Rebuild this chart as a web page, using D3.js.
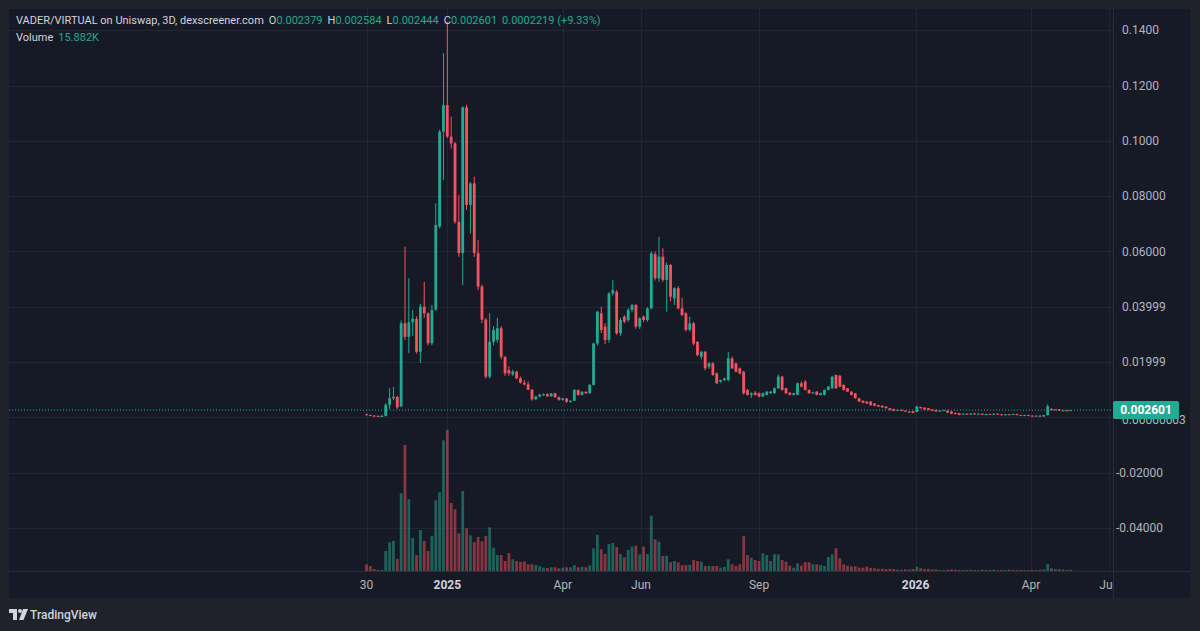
<!DOCTYPE html>
<html>
<head>
<meta charset="utf-8">
<script src="https://cdn.jsdelivr.net/npm/d3@7"></script>
<style>
  html, body { margin: 0; padding: 0; background: #1f222b; }
  svg { display: block; font-family: Roboto, "Liberation Sans", sans-serif; }
</style>
</head>
<body>
<div id="chart"></div>
<script>
const width = 1200;
const height = 631;

// 3D candles, first bar on 30 Oct 2024
const startDate = Date.UTC(2024, 9, 30);
const stepDays = 3;

const open = [
  .0011,.0008,.0006,.0005,.0004,.0005,.0045,.0069,.0074,.0040,
  .0340,.0291,.0344,.0356,.0237,.0400,.0376,.0268,.0390,.0690,
  .1033,.1129,.1015,.0991,.0707,.0594,.1121,.0768,.0846,.0594,
  .0473,.0353,.0147,.0273,.0280,.0322,.0219,.0171,.0155,.0165,
  .0141,.0125,.0119,.0100,.0065,.0075,.0080,.0084,.0076,.0087,
  .0073,.0063,.0068,.0056,.0060,.0099,.0081,.0092,.0087,.0117,
  .0267,.0376,.0328,.0280,.0448,.0454,.0304,.0364,.0352,.0388,
  .0406,.0328,.0364,.0352,.0394,.0590,.0503,.0581,.0497,.0551,
  .0430,.0467,.0394,.0376,.0316,.0340,.0273,.0219,.0237,.0183,
  .0195,.0159,.0129,.0135,.0135,.0213,.0195,.0177,.0165,.0099,
  .0081,.0089,.0087,.0075,.0081,.0087,.0087,.0105,.0147,.0105,
  .0089,.0081,.0081,.0123,.0129,.0099,.0087,.0093,.0081,.0081,
  .0099,.0105,.0153,.0150,.0117,.0105,.0093,.0087,.0069,.0060,
  .0057,.0057,.0050,.0044,.0042,.0039,.0033,.0030,.0024,.0027,
  .0024,.0021,.0022,.0019,.0037,.0035,.0033,.0028,.0027,.0021,
  .0024,.0024,.0021,.0016,.0015,.0010,.0013,.0010,.0014,.0011,
  .0013,.0009,.0012,.0010,.0013,.0011,.0008,.0011,.0009,.0012,
  .0008,.0006,.0008,.0006,.0004,.0006,.0003,.0008,.0030,.0026,
  .0029,.0024,.0025,.002379
];
const high = [
  .0013,.0010,.0008,.0007,.0009,.0051,.0105,.0110,.0078,.0350,
  .0617,.0503,.0388,.0365,.0410,.0490,.0380,.0406,.0774,.1040,
  .1317,.1430,.1087,.0995,.0804,.1125,.1130,.0850,.0870,.0642,
  .0480,.0360,.0377,.0330,.0360,.0330,.0220,.0185,.0172,.0168,
  .0147,.0135,.0130,.0102,.0078,.0085,.0086,.0086,.0088,.0089,
  .0075,.0070,.0070,.0062,.0102,.0100,.0095,.0094,.0120,.0270,
  .0385,.0400,.0340,.0452,.0497,.0460,.0360,.0370,.0395,.0410,
  .0410,.0362,.0368,.0398,.0600,.0600,.0653,.0611,.0560,.0555,
  .0470,.0475,.0432,.0380,.0364,.0345,.0275,.0240,.0240,.0200,
  .0200,.0162,.0136,.0143,.0237,.0220,.0198,.0180,.0168,.0102,
  .0090,.0095,.0090,.0090,.0095,.0095,.0108,.0155,.0150,.0107,
  .0091,.0089,.0125,.0130,.0135,.0101,.0092,.0095,.0089,.0101,
  .0113,.0150,.0155,.0153,.0119,.0106,.0094,.0088,.0070,.0061,
  .0058,.0058,.0051,.0045,.0043,.0040,.0034,.0031,.0028,.0028,
  .0025,.0022,.0023,.0042,.0038,.0036,.0034,.0029,.0028,.0025,
  .0027,.0025,.0022,.0017,.0016,.0014,.0014,.0015,.0015,.0014,
  .0014,.0013,.0013,.0014,.0014,.0012,.0012,.0012,.0013,.0013,
  .0009,.0009,.0009,.0007,.0007,.0007,.0009,.0047,.0033,.0030,
  .0030,.0027,.0026,.002620
];
const low = [
  .0007,.0005,.0004,.0003,.0003,.0003,.0030,.0062,.0030,.0036,
  .0280,.0232,.0295,.0230,.0196,.0360,.0260,.0260,.0385,.0684,
  .0858,.1010,.0972,.0700,.0580,.0478,.0750,.0665,.0580,.0460,
  .0340,.0140,.0140,.0260,.0270,.0210,.0150,.0150,.0150,.0138,
  .0122,.0115,.0098,.0060,.0062,.0072,.0078,.0074,.0074,.0070,
  .0060,.0060,.0052,.0053,.0058,.0078,.0079,.0084,.0085,.0115,
  .0260,.0305,.0265,.0270,.0440,.0298,.0295,.0340,.0345,.0380,
  .0320,.0320,.0345,.0345,.0390,.0495,.0490,.0490,.0382,.0420,
  .0406,.0390,.0365,.0310,.0310,.0260,.0220,.0210,.0170,.0175,
  .0150,.0120,.0125,.0130,.0130,.0175,.0162,.0155,.0082,.0078,
  .0070,.0078,.0072,.0073,.0079,.0085,.0085,.0103,.0096,.0084,
  .0079,.0079,.0080,.0108,.0097,.0085,.0085,.0079,.0079,.0079,
  .0097,.0103,.0103,.0108,.0097,.0091,.0079,.0067,.0055,.0051,
  .0048,.0042,.0040,.0037,.0034,.0031,.0025,.0022,.0023,.0022,
  .0019,.0016,.0014,.0018,.0031,.0026,.0025,.0022,.0019,.0020,
  .0023,.0015,.0011,.0010,.0007,.0009,.0009,.0009,.0010,.0010,
  .0008,.0008,.0009,.0009,.0010,.0007,.0007,.0008,.0008,.0007,
  .0005,.0005,.0004,.0003,.0003,.0002,.0002,.0006,.0024,.0025,
  .0023,.0023,.0022,.002340
];
const close = [
  .0008,.0006,.0005,.0004,.0005,.0045,.0069,.0074,.0036,.0340,
  .0291,.0344,.0356,.0237,.0400,.0376,.0268,.0388,.0695,.1033,
  .1129,.1015,.0991,.0707,.0594,.1121,.0768,.0846,.0594,.0473,
  .0353,.0147,.0273,.0316,.0322,.0219,.0159,.0159,.0165,.0141,
  .0125,.0119,.0100,.0065,.0075,.0082,.0083,.0076,.0086,.0073,
  .0063,.0068,.0056,.0060,.0099,.0081,.0092,.0087,.0117,.0267,
  .0382,.0316,.0280,.0448,.0460,.0304,.0352,.0346,.0388,.0406,
  .0328,.0358,.0352,.0394,.0593,.0503,.0581,.0497,.0551,.0436,
  .0467,.0394,.0370,.0316,.0340,.0267,.0225,.0237,.0177,.0195,
  .0153,.0123,.0135,.0141,.0213,.0177,.0165,.0159,.0087,.0081,
  .0087,.0081,.0075,.0087,.0093,.0093,.0105,.0147,.0099,.0087,
  .0081,.0087,.0123,.0111,.0099,.0087,.0090,.0081,.0087,.0099,
  .0111,.0147,.0105,.0111,.0099,.0093,.0081,.0069,.0057,.0053,
  .0050,.0044,.0042,.0039,.0036,.0033,.0027,.0024,.0027,.0024,
  .0021,.0018,.0016,.0039,.0033,.0028,.0027,.0024,.0021,.0024,
  .0026,.0017,.0013,.0012,.0009,.0013,.0010,.0014,.0011,.0013,
  .0009,.0012,.0010,.0013,.0011,.0008,.0011,.0009,.0012,.0008,
  .0006,.0008,.0005,.0004,.0006,.0003,.0008,.0040,.0026,.0029,
  .0024,.0025,.0023,.002601
];
// volume in thousands
const volume = [
  88,66,26,13,13,264,379,396,158,1026,
  1663,946,436,211,541,396,264,462,933,1039,
  1725,1861,898,814,498,1056,564,471,379,449,
  392,462,577,308,211,211,132,238,154,132,
  119,123,88,88,79,62,44,40,49,49,
  36,44,49,49,79,49,57,49,75,300,
  475,286,224,356,370,317,224,181,277,321,
  334,220,321,224,730,418,387,198,202,115,
  132,115,75,79,79,145,132,123,66,66,
  66,66,44,53,154,88,66,88,462,211,
  176,145,132,234,211,132,220,220,145,123,
  70,44,102,70,119,115,88,88,79,66,
  185,220,300,168,88,70,62,62,44,44,
  57,40,36,30,30,26,30,26,17,17,
  22,17,26,57,36,26,26,22,22,13,
  13,17,22,17,13,13,13,17,13,13,
  17,13,13,17,13,13,13,17,13,13,
  13,13,13,13,13,17,22,92,36,26,
  22,17,13,15.882
];

const priceTicks = [0.14, 0.12, 0.10, 0.08, 0.06, 0.03999, 0.01999, 0, -0.02, -0.04];
const priceTickLabels = ["0.1400", "0.1200", "0.1000", "0.08000", "0.06000", "0.03999", "0.01999", "0.00000003", "-0.02000", "-0.04000"];

const timeTicks = [
  Date.UTC(2024, 9, 30), Date.UTC(2025, 0, 1), Date.UTC(2025, 3, 1), Date.UTC(2025, 5, 1),
  Date.UTC(2025, 8, 1), Date.UTC(2026, 0, 1), Date.UTC(2026, 3, 1), Date.UTC(2026, 5, 1)
];
const timeTickLabels = ["30", "2025", "Apr", "Jun", "Sep", "2026", "Apr", "Jun"];

const legendTitle = "VADER/VIRTUAL on Uniswap, 3D, dexscreener.com";
const legendKeys = ["O", "H", "L", "C"];
const legendValues = [0.002379, 0.002584, 0.002444, 0.002601];
const legendChange = "0.0002219 (+9.33%)";
const lastPrice = 0.002601;

const upColor = "#22ab94";
const downColor = "#f7525f";

// pane geometry
const paneLeft = 9, paneTop = 9, paneRight = 1190, paneBottom = 598;
const plotRight = 1113, plotBottom = 571;

const data = open.map((o, i) => ({
  date: new Date(startDate + i * stepDays * 864e5),
  o, h: high[i], l: low[i], c: close[i], v: volume[i]
}));

const x = d3.scaleUtc()
  .domain([new Date(Date.UTC(2024, 9, 30)), new Date(Date.UTC(2026, 3, 1))])
  .range([366.5, 1031]);

const y = d3.scaleLinear()
  .domain([0, 0.14])
  .range([417.3, 30.2]);

const yVol = d3.scaleLinear()
  .domain([0, d3.max(volume)])
  .range([plotBottom, plotBottom - 141]);

const svg = d3.select("#chart")
  .append("svg")
  .attr("width", width)
  .attr("height", height);

svg.append("rect").attr("width", width).attr("height", height).attr("fill", "#1f222b");
svg.append("rect")
  .attr("x", paneLeft).attr("y", paneTop)
  .attr("width", paneRight - paneLeft).attr("height", paneBottom - paneTop)
  .attr("fill", "#161a25");

const defs = svg.append("defs");
defs.append("clipPath").attr("id", "plotClip")
  .append("rect")
  .attr("x", paneLeft).attr("y", paneTop)
  .attr("width", plotRight - paneLeft).attr("height", plotBottom - paneTop);
defs.append("clipPath").attr("id", "timeClip")
  .append("rect")
  .attr("x", paneLeft).attr("y", plotBottom)
  .attr("width", plotRight - paneLeft).attr("height", paneBottom - plotBottom);

// grid
const grid = svg.append("g").attr("clip-path", "url(#plotClip)");
grid.selectAll(".hgrid")
  .data(priceTicks)
  .enter().append("line")
  .attr("x1", paneLeft).attr("x2", plotRight)
  .attr("y1", d => Math.round(y(d)) + 0.5).attr("y2", d => Math.round(y(d)) + 0.5)
  .attr("stroke", "#222632").attr("stroke-width", 1);
grid.selectAll(".vgrid")
  .data(timeTicks)
  .enter().append("line")
  .attr("x1", d => Math.round(x(d)) + 0.5).attr("x2", d => Math.round(x(d)) + 0.5)
  .attr("y1", paneTop).attr("y2", plotBottom)
  .attr("stroke", "#222632").attr("stroke-width", 1);

const plot = svg.append("g").attr("clip-path", "url(#plotClip)");

// volume overlay
plot.selectAll(".vol")
  .data(data)
  .enter().append("rect")
  .attr("x", d => x(d.date) - 1.4)
  .attr("y", d => yVol(d.v))
  .attr("width", 2.8)
  .attr("height", d => Math.max(1, plotBottom - yVol(d.v)))
  .attr("fill", d => d.c >= d.o ? "rgba(34,171,148,0.5)" : "rgba(247,82,95,0.5)");

// last price line
plot.append("line")
  .attr("x1", paneLeft).attr("x2", plotRight)
  .attr("y1", y(lastPrice)).attr("y2", y(lastPrice))
  .attr("stroke", upColor).attr("stroke-width", 1)
  .attr("stroke-dasharray", "1 2");

// candles
const candle = plot.selectAll(".candle")
  .data(data)
  .enter().append("g");

candle.append("line")
  .attr("x1", d => x(d.date)).attr("x2", d => x(d.date))
  .attr("y1", d => y(d.h)).attr("y2", d => y(d.l))
  .attr("stroke", d => d.c >= d.o ? upColor : downColor)
  .attr("stroke-width", 1);

candle.append("rect")
  .attr("x", d => x(d.date) - 1.4)
  .attr("y", d => y(Math.max(d.o, d.c)))
  .attr("width", 2.8)
  .attr("height", d => Math.max(1, Math.abs(y(d.o) - y(d.c))))
  .attr("fill", d => d.c >= d.o ? upColor : downColor);

// borders
svg.append("line")
  .attr("x1", plotRight + 0.5).attr("x2", plotRight + 0.5)
  .attr("y1", paneTop).attr("y2", paneBottom)
  .attr("stroke", "#2a2e39");
svg.append("line")
  .attr("x1", paneLeft).attr("x2", paneRight)
  .attr("y1", plotBottom + 0.5).attr("y2", plotBottom + 0.5)
  .attr("stroke", "#2a2e39");

// price axis (the zero label sits partly hidden behind the last-price tag)
svg.append("g").selectAll("text")
  .data(priceTicks)
  .enter().append("text")
  .attr("x", d => d < 0 ? 1116 : 1122)
  .attr("y", d => d === 0 ? y(d) + 2 : y(d))
  .attr("dy", "0.35em")
  .attr("fill", "#b2b5be")
  .style("font-size", "12px")
  .text((d, i) => priceTickLabels[i]);

// last price tag
svg.append("rect")
  .attr("x", plotRight).attr("y", y(lastPrice) - 9)
  .attr("width", 66).attr("height", 18)
  .attr("rx", 2)
  .attr("fill", upColor);
svg.append("text")
  .attr("x", plotRight + 33).attr("y", y(lastPrice))
  .attr("dy", "0.35em")
  .attr("text-anchor", "middle")
  .attr("fill", "#ffffff")
  .style("font-size", "12px")
  .style("font-weight", "bold")
  .text(d3.format(".6f")(lastPrice));

// time axis
svg.append("g").attr("clip-path", "url(#timeClip)")
  .selectAll("text")
  .data(timeTicks)
  .enter().append("text")
  .attr("x", d => x(d))
  .attr("y", 585)
  .attr("dy", "0.35em")
  .attr("text-anchor", "middle")
  .attr("fill", (d, i) => /^\d{4}$/.test(timeTickLabels[i]) ? "#d1d4dc" : "#b2b5be")
  .style("font-size", "12px")
  .style("font-weight", (d, i) => /^\d{4}$/.test(timeTickLabels[i]) ? "bold" : "normal")
  .text((d, i) => timeTickLabels[i]);

// legend
const last = data[data.length - 1];
const legend = svg.append("text")
  .attr("x", 16).attr("y", 20)
  .attr("dy", "0.35em")
  .style("font-size", "11px")
  .attr("fill", "#d1d4dc");
legend.append("tspan").text(legendTitle);
legendKeys.forEach((k, i) => {
  legend.append("tspan").attr("dx", 5).attr("fill", "#d1d4dc").text(k);
  legend.append("tspan").attr("fill", upColor).text(d3.format(".6f")(legendValues[i]));
});
legend.append("tspan").attr("dx", 5).attr("fill", upColor).text(legendChange);

const volLegend = svg.append("text")
  .attr("x", 16).attr("y", 37)
  .attr("dy", "0.35em")
  .style("font-size", "11px")
  .attr("fill", "#d1d4dc");
volLegend.append("tspan").text("Volume");
volLegend.append("tspan").attr("dx", 5).attr("fill", upColor).text(d3.format(".3f")(last.v) + "K");

// TradingView logo
const logo = svg.append("g").attr("fill", "#d1d4dc");
logo.append("path").attr("d", "M9,609 H17 V620 H13 V613 H9 Z");
logo.append("circle").attr("cx", 20).attr("cy", 611).attr("r", 2);
logo.append("path").attr("d", "M23,609 H28 L23.5,620 H19 Z");
svg.append("text")
  .attr("x", 30).attr("y", 615)
  .attr("dy", "0.35em")
  .attr("fill", "#d1d4dc")
  .style("font-size", "12px")
  .style("font-weight", "500")
  .text("TradingView");
</script>
</body>
</html>
